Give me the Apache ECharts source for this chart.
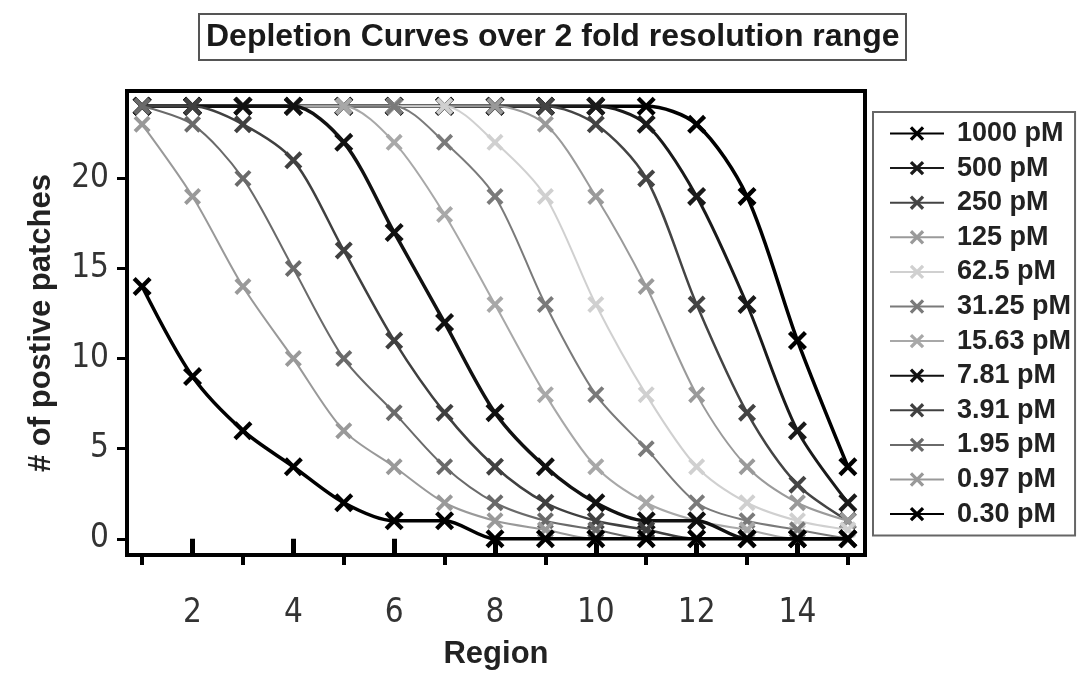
<!DOCTYPE html>
<html>
<head>
<meta charset="utf-8">
<script src="https://cdn.jsdelivr.net/npm/echarts@6/dist/echarts.min.js"></script>
<style>
html,body{margin:0;padding:0;background:#fff;}
#chart{width:1081px;height:675px;}
</style>
</head>
<body>
<div id="chart"></div>
<script>
// ---- data ----
const regions = [1,2,3,4,5,6,7,8,9,10,11,12,13,14,15];
const seriesNames = ['1000 pM','500 pM','250 pM','125 pM','62.5 pM','31.25 pM','15.63 pM','7.81 pM','3.91 pM','1.95 pM','0.97 pM','0.30 pM'];
const s1000  = [24,24,24,24,24,24,24,24,24,24,24,23,19,11,4];
const s500   = [24,24,24,24,24,24,24,24,24,24,23,19,13,6,2];
const s250   = [24,24,24,24,24,24,24,24,24,23,20,13,7,3,1];
const s125   = [24,24,24,24,24,24,24,24,23,19,14,8,4,2,1];
const s62_5  = [24,24,24,24,24,24,24,22,19,13,8,4,2,1,0.5];
const s31_25 = [24,24,24,24,24,24,22,19,13,8,5,2,1,0.5,0];
const s15_63 = [24,24,24,24,24,22,18,13,8,4,2,1,0.5,0,0];
const s7_81  = [24,24,24,24,22,17,12,7,4,2,1,1,0,0,0];
const s3_91  = [24,24,23,21,16,11,7,4,2,1,0.5,0,0,0,0];
const s1_95  = [24,23,20,15,10,7,4,2,1,0.5,0,0,0,0,0];
const s0_97  = [23,19,14,10,6,4,2,1,0.5,0,0,0,0,0,0];
const s0_30  = [14,9,6,4,2,1,1,0,0,0,0,0,0,0,0];
const allValues = [s1000,s500,s250,s125,s62_5,s31_25,s15_63,s7_81,s3_91,s1_95,s0_97,s0_30];
const xMajorTicks = [2,4,6,8,10,12,14];
const xMinorTicks = [1,3,5,7,9,11,13,15];
const yTicks = [0,5,10,15,20];

// ---- styles ----
const colors = ['#000000','#1a1a1a','#444444','#9a9a9a','#d0d0d0','#7a7a7a','#a8a8a8','#111111','#404040','#6a6a6a','#999999','#000000'];
const widths = [3.5,3,2.5,2,2,2,2,3.5,2.5,2,2,3.5];
const symSizes = [19,19,18,17,17,17,17,19,18,17,17,19];
const XPATH = 'path://M0,1.6 L1.6,0 L5,3.4 L8.4,0 L10,1.6 L6.6,5 L10,8.4 L8.4,10 L5,6.6 L1.6,10 L0,8.4 L3.4,5 Z';

const series = seriesNames.map((name, i) => ({
  name: name,
  type: 'line',
  xAxisIndex: 0,
  yAxisIndex: 0,
  data: regions.map((r, j) => [r, allValues[i][j]]),
  smooth: 0.3,
  symbol: XPATH,
  symbolSize: symSizes[i],
  showAllSymbol: true,
  lineStyle: {color: colors[i], width: widths[i]},
  itemStyle: {color: colors[i]},
  z: 2 + i,
  animation: false
}));

const tickFont = "'Liberation Sans Narrow','DejaVu Sans Condensed','Liberation Sans',sans-serif";
const boldFont = "'Liberation Sans',Arial,sans-serif";

const chart = echarts.init(document.getElementById('chart'), null, {renderer: 'canvas'});
chart.setOption({
  backgroundColor: '#ffffff',
  animation: false,
  title: {
    text: 'Depletion Curves over 2 fold resolution range',
    left: 199,
    top: 14,
    padding: [7, 7, 7, 7],
    borderColor: '#555',
    borderWidth: 2,
    textStyle: {fontFamily: boldFont, fontWeight: 'bold', fontSize: 32, color: '#1a1a1a'}
  },
  legend: {
    data: seriesNames,
    orient: 'vertical',
    left: 873,
    top: 112,
    padding: [8, 4, 8, 16],
    itemGap: 7.6,
    itemWidth: 54,
    itemHeight: 18,
    borderColor: '#666',
    borderWidth: 2,
    textStyle: {fontFamily: boldFont, fontWeight: 'bold', fontSize: 27, color: '#222', padding: [0, 0, 0, 8]}
  },
  grid: {
    left: 127, right: 216, top: 91, bottom: 110,
    show: true, borderColor: '#000', borderWidth: 4, backgroundColor: 'transparent'
  },
  xAxis: [{
    type: 'value', min: 0.7, max: 15.34, position: 'bottom',
    name: 'Region', nameLocation: 'middle', nameGap: 84,
    nameTextStyle: {fontFamily: boldFont, fontWeight: 'bold', fontSize: 31, color: '#222'},
    axisLine: {show: false},
    splitLine: {show: false},
    axisTick: {show: true, customValues: xMajorTicks, length: 18, lineStyle: {color: '#000', width: 5}},
    axisLabel: {show: true, customValues: xMajorTicks, margin: 42, fontFamily: tickFont, fontSize: 33, color: '#333'}
  }, {
    type: 'value', min: 0.7, max: 15.34, position: 'bottom', gridIndex: 0,
    axisLine: {show: false},
    splitLine: {show: false},
    axisTick: {show: true, customValues: xMinorTicks, length: 10, lineStyle: {color: '#000', width: 4}},
    axisLabel: {show: false}
  }],
  yAxis: [{
    type: 'value', min: -0.9, max: 24.85,
    name: '# of postive patches', nameLocation: 'middle', nameGap: 70,
    nameTextStyle: {fontFamily: boldFont, fontWeight: 'bold', fontSize: 31, color: '#222'},
    axisLine: {show: false},
    splitLine: {show: false},
    axisTick: {show: true, customValues: yTicks, length: 10, lineStyle: {color: '#000', width: 3}},
    axisLabel: {show: true, customValues: yTicks, margin: 18, fontFamily: tickFont, fontSize: 33, color: '#333'}
  }],
  series: series
});
</script>
</body>
</html>
